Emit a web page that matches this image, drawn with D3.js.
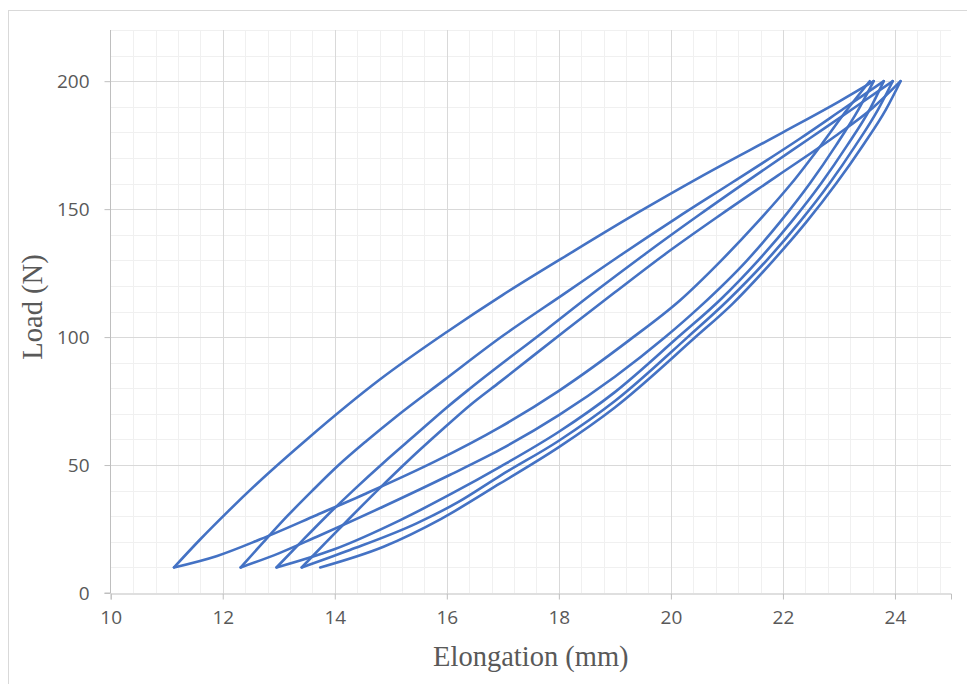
<!DOCTYPE html>
<html>
<head>
<meta charset="utf-8">
<script src="https://cdn.jsdelivr.net/npm/d3@7"></script>
<style>
  html, body { margin: 0; padding: 0; background: #ffffff; }
  svg { display: block; }
</style>
</head>
<body>
<svg id="chart" width="967" height="684"></svg>
<script>
// ---- Data (Elongation mm, Load N) ----
const xTickValues = [10, 12, 14, 16, 18, 20, 22, 24];
const yTickValues = [0, 50, 100, 150, 200];
const xTitle = "Elongation (mm)";
const yTitle = "Load (N)";

// Loading branches (upper, concave): from each low cusp up to the 200 N peak
const loading1 = [[11.13,10],[11.6,21],[12.1,32],[12.6,42.5],[13.5,60],[14.81,83.5],[16.0,102],[17.0,116.5],[18.26,133.5],[19.4,148.5],[20.52,162.5],[22.0,180],[23.0,192],[23.62,200]];
const loading2 = [[12.32,10],[12.73,20],[13.15,30],[13.6,40],[14.07,50],[14.57,59.5],[15.1,69],[15.94,83],[17.0,100.5],[18.1,117],[19.1,132],[20.1,146.5],[21.1,160.5],[22.3,177.5],[23.1,189.5],[23.8,200]];
const loading3 = [[12.96,10],[13.4,20],[13.85,30],[14.35,40.5],[14.9,51.5],[15.45,62],[16.0,72.5],[16.42,80],[17.78,103],[18.6,117],[19.51,132],[20.52,148],[21.5,163],[22.5,178],[23.3,190],[23.96,200]];
const loading4 = [[13.41,10],[13.85,20],[14.3,30],[14.78,40.5],[15.3,51.5],[15.85,62.5],[16.42,73.5],[16.95,82.5],[18.14,103],[19.0,117.5],[19.87,132],[20.9,148],[21.9,163],[22.9,178],[23.6,189.5],[24.1,200]];

// Unloading branches (lower, convex): listed from the low cusp up to the peak
const unloading0 = [[11.13,10],[11.9,14.5],[12.67,21],[13.68,30.5],[14.57,39],[15.8,51.5],[16.95,64.8],[18.0,79],[19.27,99],[20.17,114.5],[20.88,129.5],[21.55,145],[22.15,160],[22.68,175],[23.15,189],[23.55,200]];
const unloading1 = [[12.32,10],[13.0,15.5],[13.68,22],[14.87,33.8],[16.06,46.2],[16.95,56],[18.0,69.5],[19.0,84.5],[19.9,100],[20.5,111.5],[21.36,130],[21.95,145],[22.48,160],[22.95,175],[23.35,189],[23.62,200]];
const unloading2 = [[12.96,10],[13.98,17],[15.17,28.5],[16.1,39],[16.95,49.3],[18.0,63],[19.0,78.5],[20.13,100],[20.9,115],[21.56,130],[22.15,145],[22.68,160],[23.15,175],[23.55,189],[23.8,200]];
const unloading3 = [[13.41,10],[14.27,16.8],[15.46,27.2],[16.2,35.5],[16.95,45.8],[18.0,59.5],[19.0,75],[20.3,100],[21.0,114],[21.71,130],[22.3,145],[22.83,160],[23.3,175],[23.7,189],[23.96,200]];
const unloading4 = [[13.74,10],[14.87,18.1],[15.9,29],[16.95,42.8],[18.0,57],[19.0,72.5],[20.44,100],[21.1,113],[21.83,130],[22.42,145],[22.95,160],[23.43,175],[23.84,189],[24.1,200]];

const curves = [unloading0, loading1, unloading1, loading2, unloading2, loading3, unloading3, loading4, unloading4];

// ---- Layout ----
const svg = d3.select("#chart");
const plot = { left: 110.7, right: 951, top: 30, bottom: 593 };

const x = d3.scaleLinear().domain([10, 25]).range([plot.left, plot.right]);
const y = d3.scaleLinear().domain([0, 220]).range([plot.bottom, plot.top]);

// chart frame
svg.append("rect")
  .attr("x", 8.5).attr("y", 10.5)
  .attr("width", 1000).attr("height", 1000)
  .attr("fill", "none").attr("stroke", "#d9d9d9").attr("stroke-width", 1);

// minor gridlines
const xMinor = d3.range(10, 25, 0.4).filter(v => Math.abs(v / 2 - Math.round(v / 2)) > 1e-6);
const yMinor = d3.range(0, 221, 10).filter(v => v % 50 !== 0);

const grid = svg.append("g");
grid.selectAll(".xminor").data(xMinor).enter().append("line")
  .attr("x1", d => Math.round(x(d)) + 0.5).attr("x2", d => Math.round(x(d)) + 0.5)
  .attr("y1", plot.top).attr("y2", plot.bottom)
  .attr("stroke", "#f0f0f0").attr("stroke-width", 1);
grid.selectAll(".yminor").data(yMinor).enter().append("line")
  .attr("y1", d => Math.round(y(d)) + 0.5).attr("y2", d => Math.round(y(d)) + 0.5)
  .attr("x1", plot.left).attr("x2", plot.right)
  .attr("stroke", "#f0f0f0").attr("stroke-width", 1);
// major gridlines
grid.selectAll(".xmajor").data(xTickValues.filter(v => v > 10)).enter().append("line")
  .attr("x1", d => Math.round(x(d)) + 0.5).attr("x2", d => Math.round(x(d)) + 0.5)
  .attr("y1", plot.top).attr("y2", plot.bottom)
  .attr("stroke", "#d9d9d9").attr("stroke-width", 1);
grid.selectAll(".ymajor").data(yTickValues.filter(v => v > 0)).enter().append("line")
  .attr("y1", d => Math.round(y(d)) + 0.5).attr("y2", d => Math.round(y(d)) + 0.5)
  .attr("x1", plot.left).attr("x2", plot.right)
  .attr("stroke", "#d9d9d9").attr("stroke-width", 1);

// axes
const xAxis = d3.axisBottom(x).tickValues(xTickValues).tickSize(6).tickPadding(11).tickFormat(d3.format("d"));
const yAxis = d3.axisLeft(y).tickValues(yTickValues).tickSize(6).tickPadding(15).tickFormat(d3.format("d"));

const gx = svg.append("g").attr("transform", `translate(0,${plot.bottom + 0.5})`).call(xAxis);
const gy = svg.append("g").attr("transform", `translate(${Math.round(plot.left) - 0.5},0)`).call(yAxis);
[gx, gy].forEach(g => {
  g.select(".domain").attr("stroke", "#bfbfbf");
  g.selectAll(".tick line").attr("stroke", "#bfbfbf");
  g.selectAll(".tick text")
    .attr("fill", "#595959")
    .style("font-family", "'Open Sans', 'Noto Sans', sans-serif")
    .style("font-size", "19px");
});
gy.select(".domain").attr("d", `M-6,${plot.bottom}H0V${plot.top}`);

// curves
const line = d3.line().x(d => x(d[0])).y(d => y(d[1])).curve(d3.curveMonotoneX);
svg.append("g").selectAll("path").data(curves).enter().append("path")
  .attr("d", line)
  .attr("fill", "none")
  .attr("stroke", "#4472C4")
  .attr("stroke-width", 2.6)
  .attr("stroke-linejoin", "round")
  .attr("stroke-linecap", "round");

// axis titles
svg.append("text")
  .attr("x", (plot.left + plot.right) / 2).attr("y", 666)
  .attr("text-anchor", "middle")
  .attr("fill", "#595959")
  .style("font-family", "'Liberation Serif', 'Times New Roman', serif")
  .style("font-size", "28.5px")
  .text(xTitle);
svg.append("text")
  .attr("transform", `translate(41.5,307) rotate(-90)`)
  .attr("text-anchor", "middle")
  .attr("fill", "#595959")
  .style("font-family", "'Liberation Serif', 'Times New Roman', serif")
  .style("font-size", "28.5px")
  .text(yTitle);
</script>
</body>
</html>
